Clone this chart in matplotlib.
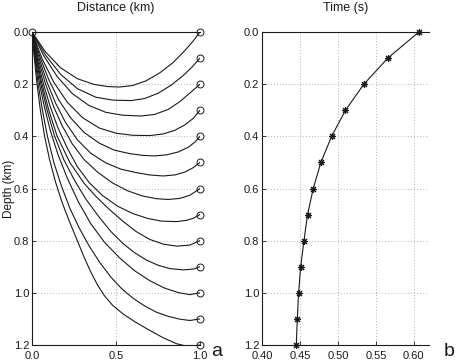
import numpy as np
import matplotlib.pyplot as plt

plt.rcParams['font.family'] = ['Liberation Sans', 'DejaVu Sans']

# receiver depths (km) and first-arrival times (s)
rec_depth = [0.0, 0.1, 0.2, 0.3, 0.4, 0.5, 0.6, 0.7, 0.8, 0.9, 1.0, 1.1, 1.2]
rec_time = [0.6066, 0.5658, 0.5342, 0.5100, 0.4917, 0.4776, 0.4675,
            0.4600, 0.4553, 0.4509, 0.4482, 0.4465, 0.4452]

# ray paths, one (x, z) list per receiver
ray_x = [
    [0, 0.08, 0.17, 0.27, 0.37, 0.45, 0.52, 0.6, 0.68, 0.76, 0.84, 0.91, 0.96, 1.0],
    [0, 0.08, 0.17, 0.27, 0.38, 0.48, 0.59, 0.67, 0.75, 0.83, 0.9, 0.95, 1.0],
    [0, 0.07, 0.15, 0.24, 0.34, 0.44, 0.54, 0.65, 0.73, 0.81, 0.88, 0.94, 1.0],
    [0, 0.06, 0.13, 0.21, 0.3, 0.4, 0.5, 0.6, 0.7, 0.78, 0.85, 0.91, 0.96, 1.0],
    [0, 0.05, 0.1, 0.16, 0.23, 0.31, 0.4, 0.49, 0.58, 0.66, 0.73, 0.8, 0.87, 0.93,
     0.97, 1.0],
    [0, 0.045, 0.09, 0.14, 0.2, 0.27, 0.35, 0.44, 0.53, 0.62, 0.7, 0.78, 0.85, 0.91,
     0.96, 1.0],
    [0, 0.04, 0.08, 0.13, 0.18, 0.24, 0.31, 0.39, 0.48, 0.57, 0.66, 0.74, 0.81, 0.88,
     0.94, 1.0],
    [0, 0.035, 0.07, 0.11, 0.155, 0.21, 0.27, 0.34, 0.42, 0.51, 0.6, 0.69, 0.77, 0.86,
     0.92, 0.96, 1.0],
    [0, 0.027, 0.06, 0.1, 0.15, 0.225, 0.31, 0.38, 0.46, 0.54, 0.62, 0.7, 0.78, 0.86,
     0.94, 1.0],
    [0, 0.024, 0.053, 0.09, 0.135, 0.19, 0.25, 0.32, 0.4, 0.47, 0.54, 0.61, 0.68, 0.75,
     0.82, 0.9, 0.96, 1.0],
    [0, 0.02, 0.045, 0.075, 0.11, 0.155, 0.21, 0.275, 0.35, 0.43, 0.52, 0.61, 0.7, 0.79,
     0.87, 0.94, 1.0],
    [0, 0.017, 0.037, 0.062, 0.092, 0.13, 0.175, 0.225, 0.28, 0.34, 0.405, 0.47, 0.535,
     0.6, 0.67, 0.74, 0.81, 0.88, 0.94, 1.0],
    [0, 0.014, 0.03, 0.05, 0.075, 0.105, 0.14, 0.18, 0.225, 0.27, 0.31, 0.35, 0.39, 0.43,
     0.48, 0.54, 0.61, 0.69, 0.78, 0.86, 0.93, 1.0],
]
ray_z = [
    [0, 0.076, 0.137, 0.179, 0.201, 0.209, 0.211, 0.205, 0.187, 0.157, 0.117, 0.071,
     0.034, 0.0],
    [0, 0.088, 0.162, 0.217, 0.25, 0.261, 0.263, 0.255, 0.235, 0.203, 0.167, 0.136, 0.10],
    [0, 0.091, 0.171, 0.236, 0.282, 0.308, 0.319, 0.322, 0.316, 0.297, 0.267, 0.234, 0.20],
    [0, 0.102, 0.193, 0.269, 0.328, 0.368, 0.388, 0.396, 0.397, 0.391, 0.377, 0.356,
     0.331, 0.30],
    [0, 0.10, 0.183, 0.261, 0.329, 0.385, 0.426, 0.453, 0.466, 0.473, 0.475, 0.471,
     0.46, 0.442, 0.422, 0.40],
    [0, 0.106, 0.193, 0.272, 0.347, 0.413, 0.465, 0.502, 0.526, 0.539, 0.548, 0.552,
     0.548, 0.537, 0.52, 0.50],
    [0, 0.11, 0.198, 0.288, 0.36, 0.429, 0.489, 0.537, 0.579, 0.609, 0.629, 0.639,
     0.642, 0.638, 0.626, 0.60],
    [0, 0.112, 0.203, 0.289, 0.368, 0.445, 0.516, 0.577, 0.627, 0.668, 0.696, 0.715,
     0.725, 0.727, 0.722, 0.714, 0.70],
    [0, 0.1, 0.2, 0.3, 0.4, 0.5, 0.58, 0.63, 0.68, 0.725, 0.765, 0.795, 0.813, 0.821,
     0.817, 0.80],
    [0, 0.1, 0.2, 0.3, 0.4, 0.49, 0.565, 0.64, 0.71, 0.765, 0.81, 0.846, 0.874, 0.894,
     0.907, 0.912, 0.909, 0.90],
    [0, 0.1, 0.2, 0.29, 0.38, 0.47, 0.56, 0.65, 0.735, 0.805, 0.865, 0.915, 0.953, 0.982,
     0.999, 1.007, 1.0],
    [0, 0.1, 0.2, 0.3, 0.4, 0.5, 0.59, 0.675, 0.75, 0.82, 0.885, 0.94, 0.985, 1.02, 1.05,
     1.074, 1.09, 1.101, 1.106, 1.1],
    [0, 0.1, 0.2, 0.3, 0.4, 0.49, 0.575, 0.655, 0.73, 0.8, 0.863, 0.92, 0.97, 1.01,
     1.048, 1.08, 1.11, 1.14, 1.172, 1.195, 1.206, 1.2],
]
rec_x = 1.0
src = (0.0, 0.0)

lc = '#1a1a1a'
fs = 8
fig = plt.figure(figsize=(4.57, 3.63), dpi=100)
ax1 = fig.add_axes([0.070, 0.0496, 0.3676, 0.8622])
ax2 = fig.add_axes([0.5733, 0.0496, 0.3654, 0.8622])


def style(ax):
    ax.spines['right'].set_visible(False)
    for s in ['left', 'top', 'bottom']:
        ax.spines[s].set_linewidth(0.8)
        ax.spines[s].set_color(lc)
    ax.tick_params(direction='in', length=3, width=0.6, labelsize=fs,
                   colors=lc, top=False, right=False)
    ax.tick_params(axis='x', pad=4)
    ax.tick_params(axis='y', pad=2)
    ax.grid(True, linestyle=(0, (1, 2.5)), color='#999999', linewidth=0.6)
    ax.set_axisbelow(True)
    ax.set_ylim(1.2, 0.0)
    ax.set_yticks(np.arange(0, 1.21, 0.2))
    ax.set_yticklabels(['%.1f' % v for v in np.arange(0, 1.21, 0.2)])


# panel a: rays
for xs, zs in zip(ray_x, ray_z):
    ax1.plot(xs, zs, color=lc, lw=0.8, solid_joinstyle='round')
ax1.plot([rec_x] * len(rec_depth), rec_depth, 'o', mfc='none', mec=lc,
         ms=5, mew=0.7, clip_on=False, zorder=5)
ax1.plot(*src, 'o', mfc='none', mec=lc, ms=5, mew=0.7, clip_on=False, zorder=5)
style(ax1)
ax1.set_xlim(0, 1.0)
ax1.set_xticks([0, 0.5, 1.0])
ax1.set_xticklabels(['0.0', '0.5', '1.0'])
ax1.set_title('Distance (km)', fontsize=9, pad=15, color=lc)
ax1.set_ylabel('Depth (km)', fontsize=8.5, color=lc)
ax1.yaxis.set_label_coords(-0.1, 0.5)

# panel b: traveltimes
ax2.plot(rec_time, rec_depth, color=lc, lw=0.8, marker=(8, 2, 0), ms=5,
         mew=0.8, clip_on=False)
style(ax2)
ax2.set_xlim(0.40, 0.62)
ax2.set_xticks([0.40, 0.45, 0.50, 0.55, 0.60])
ax2.set_xticklabels(['0.40', '0.45', '0.50', '0.55', '0.60'])
ax2.set_title('Time (s)', fontsize=9, pad=15, color=lc)

fig.text(0.475, 0.018, 'a', fontsize=14, color=lc, ha='center')
fig.text(0.982, 0.018, 'b', fontsize=14, color=lc, ha='center')

fig.savefig('out.png', dpi=100)
